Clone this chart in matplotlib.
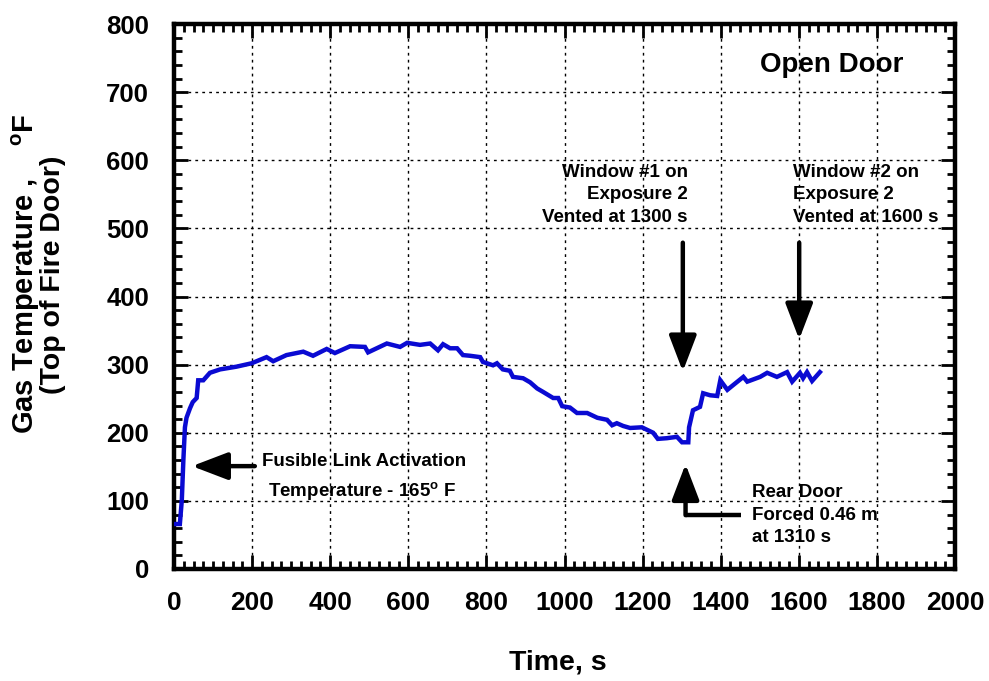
import matplotlib
matplotlib.use("Agg")
import matplotlib.pyplot as plt
from matplotlib.ticker import MultipleLocator

plt.rcParams["font.family"] = ["Liberation Sans", "DejaVu Sans"]
plt.rcParams["font.weight"] = "bold"
plt.rcParams["mathtext.fontset"] = "custom"
plt.rcParams["mathtext.rm"] = "Liberation Sans:bold"
plt.rcParams["mathtext.bf"] = "Liberation Sans:bold"

# Gas temperature at the top of the fire door (open door test)
time_s = [3, 15, 20, 24, 28, 32, 41, 48, 58, 62, 75, 92, 118, 160, 199, 237, 254,
          288, 331, 356, 391, 412, 451, 489, 497, 545, 579, 597, 630, 656, 676,
          689, 707, 725, 740, 758, 784, 791, 817, 827, 842, 860, 868, 894, 912,
          930, 945, 971, 984, 994, 1014, 1032, 1058, 1084, 1109, 1122, 1134,
          1150, 1168, 1198, 1227, 1239, 1262, 1288, 1301, 1317, 1319, 1329,
          1347, 1355, 1373, 1391, 1399, 1417, 1432, 1458, 1468, 1501, 1519,
          1544, 1570, 1583, 1603, 1611, 1621, 1634, 1654]
temp_f = [66, 66, 101, 160, 208, 222, 236, 245, 251, 277, 277, 288, 293, 297, 302,
          311, 305, 314, 319, 313, 323, 317, 327, 326, 318, 331, 326, 332, 329,
          331, 321, 330, 324, 324, 314, 313, 311, 304, 299, 302, 293, 291, 282,
          280, 274, 265, 260, 251, 251, 239, 237, 229, 229, 222, 219, 211, 214,
          210, 207, 208, 200, 191, 192, 194, 186, 186, 208, 233, 238, 258, 255,
          254, 277, 263, 270, 282, 275, 282, 288, 282, 289, 275, 288, 280, 289,
          276, 289]

x_ticks = list(range(0, 2001, 200))
y_ticks = list(range(0, 801, 100))

# Event annotations: arrow tail and arrow tip in data units
fusible_arrow = ((207, 151), (46, 151))
window1_arrow = ((1303, 479), (1303, 290))
window2_arrow = ((1601, 479), (1601, 337))
rear_door_path = [(1451, 79), (1310, 79)]
rear_door_arrow = ((1310, 79), (1310, 154))

fig = plt.figure(figsize=(9.89, 6.81), dpi=100)
ax = fig.add_axes([174 / 989, 1 - 569 / 681, (955 - 174) / 989, (569 - 24) / 681])

ax.plot(time_s, temp_f, color="#0a0ad2", lw=3.2, solid_joinstyle="miter", zorder=3)

ax.set_xlim(0, 2000)
ax.set_ylim(0, 800)
ax.set_xticks(x_ticks)
ax.set_yticks(y_ticks)
ax.xaxis.set_minor_locator(MultipleLocator(25))
ax.yaxis.set_minor_locator(MultipleLocator(20))
ax.tick_params(which="both", direction="in", top=True, right=True, width=2)
ax.tick_params(which="major", length=10)
ax.tick_params(which="minor", length=6)
ax.tick_params(axis="y", which="major", pad=18)
ax.tick_params(axis="x", which="major", pad=16)
for s in ax.spines.values():
    s.set_linewidth(3.2)

ax.set_yticklabels([str(v) for v in y_ticks], fontsize=18.5, fontweight="bold")
ax.set_xticklabels([str(v) for v in x_ticks], fontsize=19, fontweight="bold")

ax.grid(True, which="major", color="black", lw=1.0, linestyle=(0, (2, 3)))
ax.set_axisbelow(True)

fig.text(558 / 989, 1 - 663 / 681, "Time, s", ha="center", va="center",
         fontsize=20.5, fontweight="bold")

fig.text(26 / 989, 1 - 274 / 681, "Gas Temperature ,    $^{\\mathrm{o}}$F",
         rotation=90, ha="center", va="center", fontsize=21, fontweight="bold")
fig.text(53 / 989, 1 - 275 / 681, "(Top of Fire Door)",
         rotation=90, ha="center", va="center", fontsize=20.5, fontweight="bold")

ax.text(1685, 740, "Open Door", ha="center", va="center", fontsize=20, fontweight="bold")

arrow_style = dict(arrowstyle="-|>,head_length=1.1,head_width=0.42", color="black",
                   lw=3.2, mutation_scale=20, shrinkA=0, shrinkB=0)


def event_arrow(tail, tip):
    ax.annotate("", xy=tip, xytext=tail, arrowprops=arrow_style, zorder=4)


event_arrow(*fusible_arrow)
event_arrow(*window1_arrow)
event_arrow(*window2_arrow)
ax.plot([p[0] for p in rear_door_path], [p[1] for p in rear_door_path],
        color="black", lw=3.2, solid_capstyle="butt", zorder=4)
event_arrow(*rear_door_arrow)

ann_fs = 13.5
ax.text(225, 158, "Fusible Link Activation", ha="left", va="center",
        fontsize=ann_fs, fontweight="bold")
ax.text(241, 114, "Temperature - 165$^{\\mathrm{o}}$ F", ha="left", va="center",
        fontsize=ann_fs, fontweight="bold")
ax.text(1316, 549, "Window #1 on\nExposure 2\nVented at 1300 s", ha="right",
        va="center", multialignment="right", fontsize=ann_fs, fontweight="bold",
        linespacing=1.4)
ax.text(1585, 549, "Window #2 on\nExposure 2\nVented at 1600 s", ha="left",
        va="center", multialignment="left", fontsize=ann_fs, fontweight="bold",
        linespacing=1.4)
ax.text(1480, 79, "Rear Door\nForced 0.46 m\nat 1310 s", ha="left",
        va="center", multialignment="left", fontsize=ann_fs, fontweight="bold",
        linespacing=1.4)

fig.savefig("out.png", dpi=100)
